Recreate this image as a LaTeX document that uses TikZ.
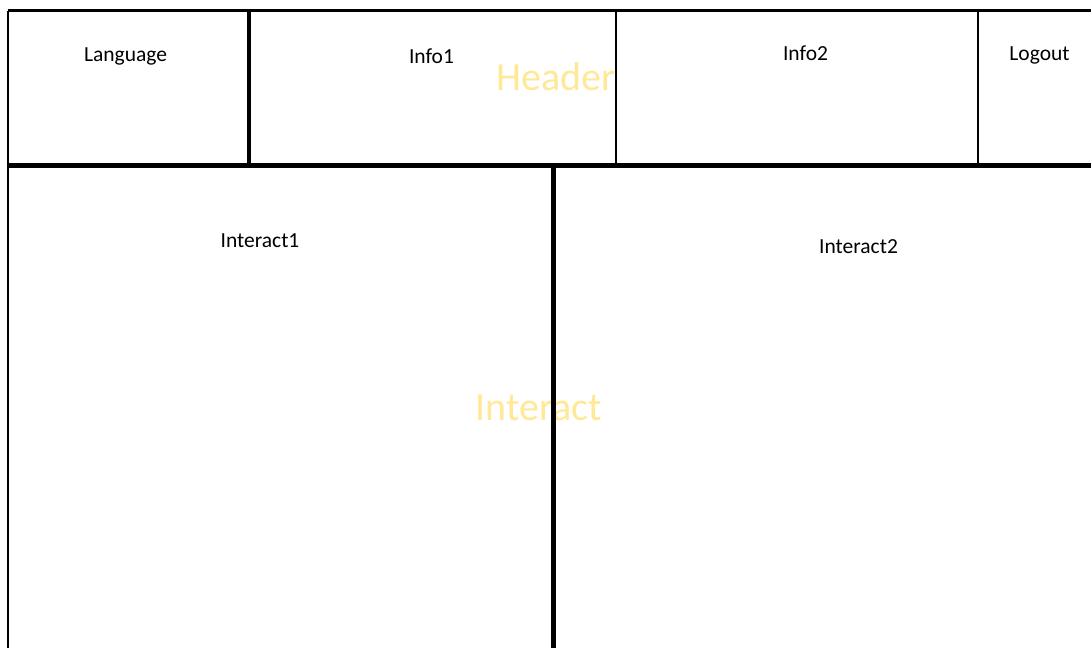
\documentclass[tikz,border=0pt]{standalone}
\usepackage{fontspec}
\setmainfont{Carlito}
\definecolor{wm}{RGB}{255,232,150}
\tikzset{
  lbl/.style={anchor=base, inner sep=0pt, font=\fontsize{21.5}{24}\selectfont},
  big/.style={anchor=base, inner sep=0pt, text=wm, font=\fontsize{40}{44}\selectfont},
  thin/.style={line width=2.5pt},
  thick/.style={line width=5pt},
}
\begin{document}
\begin{tikzpicture}[x=1pt,y=-1pt]
\useasboundingbox[fill=white] (0,0) rectangle (1091,648);
% corners / coordinates
\coordinate (tl) at (8,10.5);
\coordinate (tr) at (1091,10.5);
\coordinate (bl) at (8,648);
\coordinate (hl) at (8,165.5);
\coordinate (hr) at (1091,165.5);
\coordinate (d1t) at (249,10.5);
\coordinate (d1b) at (249,165.5);
\coordinate (d2t) at (616,10.5);
\coordinate (d2b) at (616,165.5);
\coordinate (d3t) at (978,10.5);
\coordinate (d3b) at (978,165.5);
\coordinate (d4t) at (553.5,165.5);
\coordinate (d4b) at (553.5,648);
% watermark labels
\node[big] (header) at (555.8,90) {Header};
\node[big] (interact) at (538.8,420) {Interact};
% frame lines
\draw[thin] (tl) -- (tr);
\draw[thin] (tl) -- (bl);
\draw[thick] (hl) -- (hr);
\draw[line width=4.5pt] (d1t) -- (d1b);
\draw[thin] (d2t) -- (d2b);
\draw[thin] (d3t) -- (d3b);
\draw[thick] (d4t) -- (d4b);
% labels
\node[lbl] (language) at (125.5,61.7) {Language};
\node[lbl] (info1) at (431.5,63.3) {Info1};
\node[lbl] (info2) at (805.5,60.7) {Info2};
\node[lbl] (logout) at (1039.5,60) {Logout};
\node[lbl] (interact1) at (260,247.3) {Interact1};
\node[lbl] (interact2) at (858.5,253.3) {Interact2};
\end{tikzpicture}
\end{document}
